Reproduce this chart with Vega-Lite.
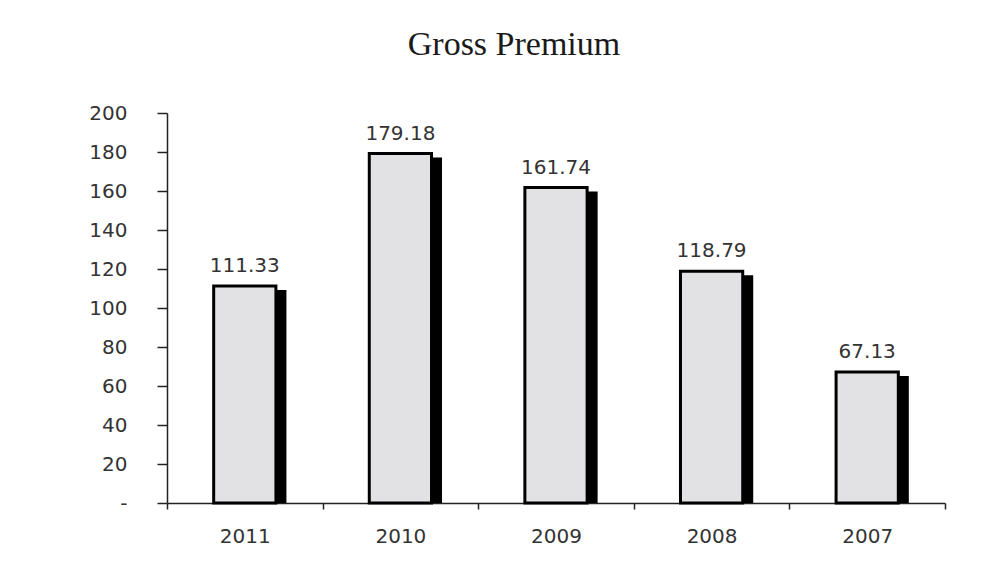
{
  "$schema": "https://vega.github.io/schema/vega-lite/v6.json",
  "width": 778,
  "height": 390,
  "autosize": "none",
  "padding": {"left": 167, "top": 113, "right": 39, "bottom": 74},
  "background": "white",
  "title": {
    "text": "Gross Premium",
    "font": "Liberation Serif",
    "fontSize": 34,
    "fontWeight": "normal",
    "color": "#1a1a1a",
    "anchor": "middle",
    "frame": "group",
    "dx": -42,
    "offset": 41
  },
  "data": {
    "values": [
      {"year": "2011", "premium": 111.33},
      {"year": "2010", "premium": 179.18},
      {"year": "2009", "premium": 161.74},
      {"year": "2008", "premium": 118.79},
      {"year": "2007", "premium": 67.13}
    ]
  },
  "encoding": {
    "x": {
      "field": "year",
      "type": "nominal",
      "sort": null,
      "scale": {"paddingInner": 0, "paddingOuter": 0},
      "axis": {
        "title": null,
        "labelAngle": 0,
        "tickBand": "extent",
        "tickSize": 6,
        "tickColor": "#222",
        "tickWidth": 1.5,
        "domainColor": "#222",
        "domainWidth": 1.5,
        "labelFont": "DejaVu Sans",
        "labelFontSize": 20,
        "labelColor": "#333",
        "labelPadding": 17
      }
    },
    "y": {
      "field": "premium",
      "type": "quantitative",
      "stack": null,
      "scale": {"domain": [0, 200], "nice": false},
      "axis": {
        "title": null,
        "grid": false,
        "values": [0, 20, 40, 60, 80, 100, 120, 140, 160, 180, 200],
        "labelExpr": "datum.value === 0 ? '-' : datum.label",
        "tickSize": 10,
        "tickColor": "#222",
        "tickWidth": 1.5,
        "domainColor": "#222",
        "domainWidth": 1.5,
        "labelFont": "DejaVu Sans",
        "labelFontSize": 20,
        "labelColor": "#333",
        "labelPadding": 30
      }
    }
  },
  "layer": [
    {
      "mark": {
        "type": "bar",
        "color": "#000000",
        "width": {"band": 0.4},
        "xOffset": 10.5,
        "x2Offset": 10.5,
        "yOffset": 4,
        "y2Offset": 0.01
      }
    },
    {
      "mark": {
        "type": "bar",
        "width": {"band": 0.4},
        "fill": "#e2e2e4",
        "stroke": "#000000",
        "strokeWidth": 3
      }
    },
    {
      "mark": {
        "type": "text",
        "baseline": "alphabetic",
        "dy": -14,
        "font": "DejaVu Sans",
        "fontSize": 20,
        "color": "#333"
      },
      "encoding": {
        "text": {"field": "premium", "type": "quantitative", "format": ".2f"}
      }
    }
  ],
  "config": {"view": {"stroke": null}}
}
